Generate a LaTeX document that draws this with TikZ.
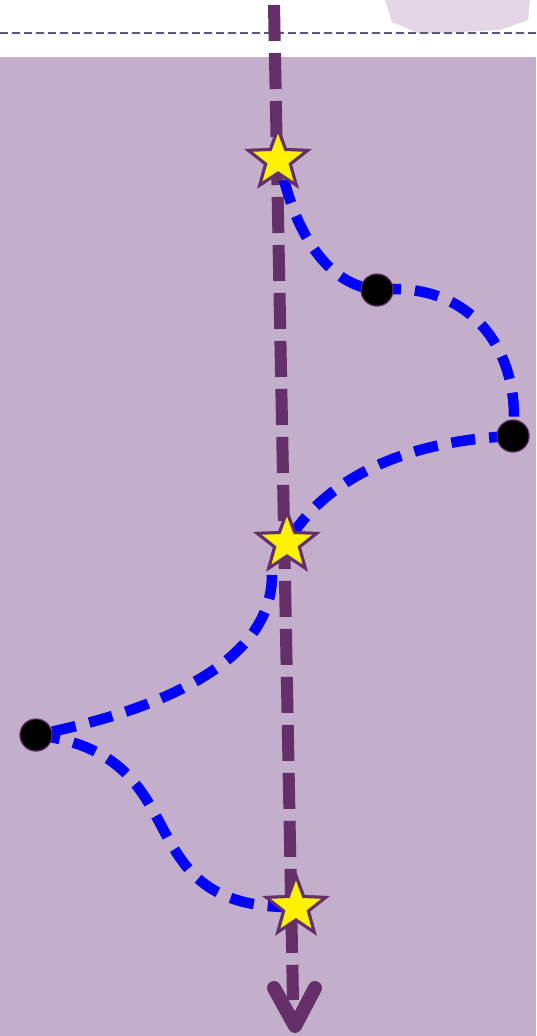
\documentclass[tikz,border=0pt]{standalone}
\usetikzlibrary{shapes.geometric}
\definecolor{bgpurple}{HTML}{C3AECB}
\definecolor{axispurple}{HTML}{653069}
\definecolor{rulegray}{HTML}{5D5680}
\definecolor{wmark}{HTML}{E4D5E7}
\tikzset{
  goal/.style={shape=star, star points=5, star point ratio=2.4, minimum size=62pt,
    inner sep=0pt, fill=yellow, draw=axispurple, line width=3pt},
  waypoint/.style={circle, minimum size=32pt, inner sep=0pt, fill=black, draw=axispurple, line width=1pt},
  leg/.style={draw=blue, line width=10.5pt, dash pattern=on 24pt off 14pt}
}
\begin{document}
\begin{tikzpicture}[x=1pt,y=-1pt]
    \useasboundingbox (0,0) rectangle (536,1036);
    % background bands
    \fill[white] (0,0) rectangle (536,57);
    \fill[bgpurple] (0,57) rectangle (536,1036);
    \fill[wmark] (385,0) -- (530,0) -- (528,20) -- (500,30) -- (420,34) -- (392,22) -- cycle;
    \draw[rulegray, line width=1.6pt, dash pattern=on 8pt off 4pt] (0,33) -- (536,33);

    % main axis
    \coordinate (top) at (274,5);
    \coordinate (tip) at (295,1026);
    \draw[axispurple, line width=12pt, dash pattern=on 36pt off 12pt] (top) -- (293,1000);
    \draw[axispurple, line width=14pt, line cap=round, line join=round]
      (274,988) -- (tip) -- (315,988);

    % marks
    \node[goal] (s1) at (278,160) {};
    \node[goal] (s2) at (287,543) {};
    \node[goal] (s3) at (296,907) {};
    \node[waypoint] (p1) at (377,290) {};
    \node[waypoint] (p2) at (513,436) {};
    \node[waypoint] (p3) at (36,735) {};

    % route
    \draw[leg] (s1.center) ++(6,20) .. controls (300,240) and (330,285) .. (p1.center);
    \draw[leg] (p1.center) .. controls (470,280) and (522,350) .. (p2.center);
    \draw[leg] (p2.center) .. controls (420,440) and (330,470) .. (s2.center);
    \draw[leg] (s2.center) ++(-15,32) .. controls (272,680) and (110,720) .. (p3.center);
    \draw[leg] (p3.center) .. controls (205,755) and (120,910) .. (s3.center);

    % redraw marks on top
    \node[goal] at (s1) {};
    \node[goal] at (s2) {};
    \node[goal] at (s3) {};
    \node[waypoint] at (p1) {};
    \node[waypoint] at (p2) {};
    \node[waypoint] at (p3) {};
\end{tikzpicture}
\end{document}
